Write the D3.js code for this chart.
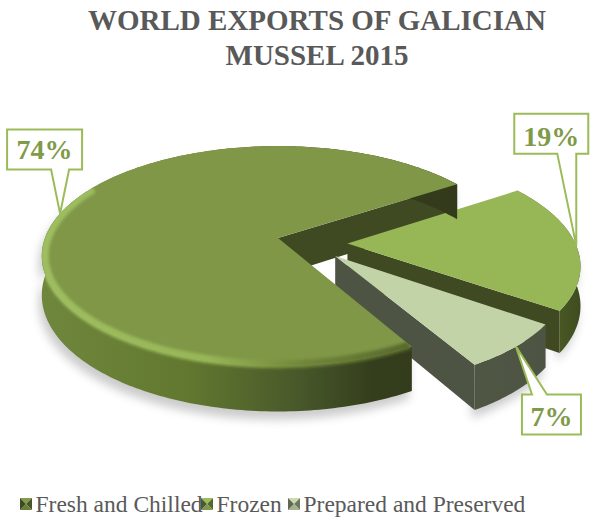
<!DOCTYPE html>
<html>
<head>
<meta charset="utf-8">
<script src="https://cdn.jsdelivr.net/npm/d3@7"></script>
<style>
  html, body { margin: 0; padding: 0; background: #fff; }
  svg { display: block; }
  text { font-family: "Liberation Serif", serif; }
</style>
</head>
<body>
<svg id="chart" width="594" height="517"></svg>
<script>
// Chart data
const titleLines = ["WORLD EXPORTS OF GALICIAN", "MUSSEL 2015"];
const categories = ["Fresh and Chilled", "Frozen", "Prepared and Preserved"];
const shares = [74, 19, 7];

// Pie layout: tilted disc seen in perspective
const W = 594, H = 517;
const apex = { x: 278, y: 238 };
const radiusX = 233, radiusY = 107, perspective = 0.164, thickness = 38;
const firstAngle = 150.5 * Math.PI / 180;
const outerRadius = [1, 0.97, 0.95];
const explodeDist = [0, 0.30, 0.29];
const explodeDir = [0, 100, 124.6];

// Colours per slice
const topFill = ["#7f9747", "#97b757", "#c3d3a8"];
const wallFill = ["#3f4a22", "#3f4a22", "#4e5443"];
const labelColor = "#7f9a48", calloutStroke = "#9bbb59", textColor = "#595959";
const rimStops = [
  [[0, "#6f873c"], [0.35, "#627830"], [0.62, "#48582a"], [0.8, "#343d1c"], [1, "#323a1b"]],
  [[0, "#5a6e2c"], [0.6, "#4a5a25"], [1, "#3f4c20"]],
  [[0, "#505644"], [1, "#4e5443"]]
];
const bevelStops = [
  [[0, "#9fbe60"], [0.4, "#97b657"], [0.62, "#72883a"], [1, "#4d5c27"]],
  [[0, "#97b757"], [0.45, "#a2c060"], [1, "#546a28"]],
  [[0, "#c3d3a8"], [0.5, "#8d9878"], [1, "#5a604d"]]
];

// Callout placement relative to the slice's mid-rim point
const callouts = [
  { box: [-53, -84, 75, 40], base: [-9, 9], size: 28, textDy: 29 },
  { box: [-62, -132, 74, 40], base: [-19, 0], size: 28, textDy: 32 },
  { box: [6, 48, 59, 40], base: [16, 31], size: 28, textDy: 31 }
];

const svg = d3.select("#chart");
const defs = svg.append("defs");

defs.append("filter").attr("id", "soft").attr("x", "-20%").attr("y", "-20%").attr("width", "140%").attr("height", "140%")
  .append("feGaussianBlur").attr("stdDeviation", 1.7);
defs.append("filter").attr("id", "shade").attr("x", "-20%").attr("y", "-20%").attr("width", "140%").attr("height", "140%")
  .append("feGaussianBlur").attr("stdDeviation", 5);

const pie = d3.pie().sort(null)
  .startAngle(firstAngle - 2 * Math.PI + (2 * Math.PI))
  .endAngle(firstAngle + 2 * Math.PI);
const arcs = pie(shares);

// Maps a point on the disc (angle clockwise from the back, radius) to the page
const unit = d3.scaleLinear().domain([0, 1]).range([0, 1]);
function project(X, Y, z) {
  const w = 1 + perspective * Y;
  return [apex.x + radiusX * X / w, apex.y - radiusY * Y / w + (z || 0) * thickness / w];
}
function slicePoint(i, angle, r, z) {
  const dir = explodeDir[i] * Math.PI / 180;
  const X = explodeDist[i] * Math.sin(dir) + unit(r) * Math.sin(angle);
  const Y = explodeDist[i] * Math.cos(dir) + unit(r) * Math.cos(angle);
  return project(X, Y, z);
}
const STEP = Math.PI / 180;
const rimAngles = (a0, a1) => d3.range(a0, a1, STEP).concat([a1]);
const line = d3.line();

function topPath(i) {
  const a = arcs[i], r = outerRadius[i];
  return line([slicePoint(i, 0, 0, 0)].concat(rimAngles(a.startAngle, a.endAngle).map(t => slicePoint(i, t, r, 0)))) + "Z";
}
function rimPath(i) {
  const a = arcs[i], r = outerRadius[i], ts = rimAngles(a.startAngle, a.endAngle);
  return line(ts.map(t => slicePoint(i, t, r, 0)).concat(ts.slice().reverse().map(t => slicePoint(i, t, r, 1)))) + "Z";
}
function wallPath(i) {
  const a = arcs[i], r = outerRadius[i];
  return line([
    slicePoint(i, 0, 0, 0), slicePoint(i, a.endAngle, r, 0),
    slicePoint(i, a.endAngle, r, 1), slicePoint(i, 0, 0, 1)
  ]) + "Z";
}
function bevelPath(i) {
  const a = arcs[i], r = outerRadius[i] - 0.012;
  const lo = Math.max(a.startAngle, 70 * STEP), hi = Math.min(a.endAngle, 300 * STEP);
  return line(rimAngles(lo, hi).map(t => slicePoint(i, t, r, 0)));
}

// Gradients running left to right over each slice's front rim
arcs.forEach((a, i) => {
  const xs = rimAngles(a.startAngle, a.endAngle).map(t => slicePoint(i, t, outerRadius[i], 0)[0]);
  const [x0, x1] = d3.extent(xs);
  [["rim", rimStops[i]], ["bevel", bevelStops[i]]].forEach(([name, stops]) => {
    const g = defs.append("linearGradient").attr("id", `${name}${i}`)
      .attr("gradientUnits", "userSpaceOnUse").attr("x1", x0).attr("x2", x1).attr("y1", 0).attr("y2", 0);
    stops.forEach(s => g.append("stop").attr("offset", s[0]).attr("stop-color", s[1]));
  });
  defs.append("clipPath").attr("id", `body${i}`)
    .selectAll("path").data([topPath(i), rimPath(i)]).join("path").attr("d", d => d);
});

// Soft drop shadow under the slices
const shadow = svg.append("g").attr("filter", "url(#shade)").attr("opacity", 0.3).attr("transform", "translate(-3,8)");
arcs.forEach((a, i) => shadow.append("path").attr("d", rimPath(i)).attr("fill", "#555"));

function drawRimAndTop(i) {
  const g = svg.append("g").attr("class", `slice-${i}`);
  g.append("path").attr("d", rimPath(i)).attr("fill", `url(#rim${i})`);
  g.append("path").attr("d", topPath(i)).attr("fill", topFill[i]);
  g.append("g").attr("clip-path", `url(#body${i})`)
    .append("path").attr("d", bevelPath(i)).attr("fill", "none")
    .attr("stroke", `url(#bevel${i})`).attr("stroke-width", 8).attr("filter", "url(#soft)");
}
function drawWall(i) {
  svg.append("path").attr("d", wallPath(i)).attr("fill", wallFill[i]);
}

// Back to front: large slice's inner wall, the two exploded slices, then the large slice's body
drawWall(0);
drawWall(1); drawRimAndTop(1);
drawWall(2); drawRimAndTop(2);
drawRimAndTop(0);

// Callouts
arcs.forEach((a, i) => {
  const mid = (a.startAngle + a.endAngle) / 2;
  const tip = slicePoint(i, mid, outerRadius[i], 0);
  const c = callouts[i];
  const [bx, by, bw, bh] = c.box;
  const x = tip[0] + bx, y = tip[1] + by;
  const attachBottom = by < 0;
  const edgeY = attachBottom ? y + bh : y;
  const b0 = tip[0] + c.base[0], b1 = tip[0] + c.base[0] + (i === 0 ? 18 : (i === 1 ? 19 : 15));
  const outline = attachBottom
    ? [[x, y], [x + bw, y], [x + bw, edgeY], [b1, edgeY], tip, [b0, edgeY], [x, edgeY]]
    : [[x, y], [b0, y], tip, [b1, y], [x + bw, y], [x + bw, y + bh], [x, y + bh]];
  svg.append("path").attr("d", line(outline) + "Z")
    .attr("fill", "#fff").attr("stroke", calloutStroke).attr("stroke-width", 2).attr("stroke-linejoin", "miter");
  svg.append("text").attr("x", x + bw / 2).attr("y", y + c.textDy)
    .attr("text-anchor", "middle").attr("font-weight", "bold").attr("font-size", c.size)
    .attr("fill", labelColor).text(`${shares[i]}%`);
});

// Title
svg.append("g").selectAll("text").data(titleLines).join("text")
  .attr("x", 317).attr("y", (d, i) => 30 + i * 35)
  .attr("text-anchor", "middle").attr("font-weight", "bold").attr("font-size", 29)
  .attr("fill", textColor).text(d => d);

// Legend with pyramid-style swatches
const legendX = d3.scalePoint().domain(categories).range([0, 1]);
const swatchX = [20, 201, 288];
const legend = svg.append("g");
categories.forEach((name, i) => {
  const s = 12, x = swatchX[i], y = 498;
  const base = d3.color(topFill[i]);
  const c = [x + s / 2, y + s / 2];
  const faces = [
    [[x, y], [x + s, y], c, base.brighter(0.1)],
    [[x + s, y], [x + s, y + s], c, base.darker(1.6)],
    [[x + s, y + s], [x, y + s], c, base.darker(0.5)],
    [[x, y + s], [x, y], c, base.darker(2)]
  ];
  faces.forEach(f => legend.append("path").attr("d", line(f.slice(0, 3)) + "Z").attr("fill", f[3]));
  legend.append("text").attr("x", x + s + 3.5).attr("y", 512)
    .attr("font-size", 23.5).attr("fill", textColor).text(name);
});
</script>
</body>
</html>
